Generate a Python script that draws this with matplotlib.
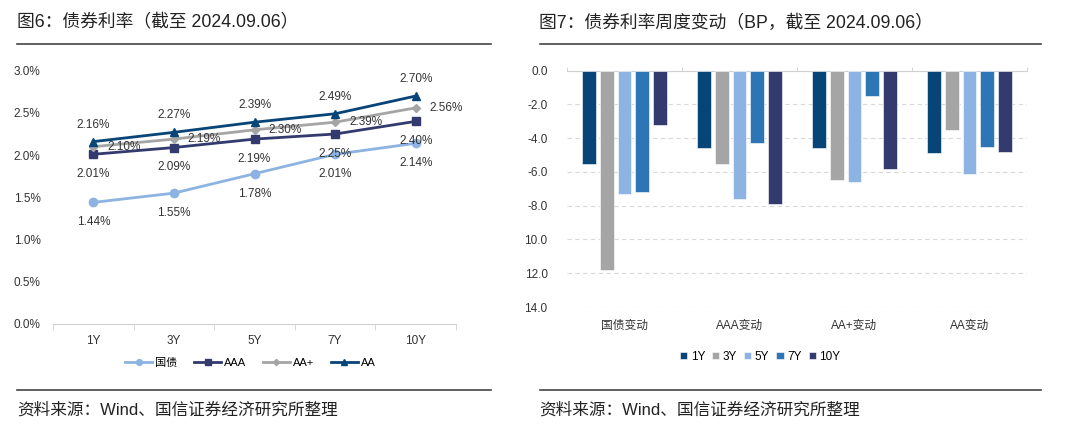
import matplotlib
matplotlib.use("Agg")
import matplotlib.pyplot as plt
import numpy as np
from matplotlib.lines import Line2D

plt.rcParams['font.family'] = ['Liberation Sans', 'Noto Sans CJK SC', 'DejaVu Sans']

# left chart data
tenors = ["1Y", "3Y", "5Y", "7Y", "10Y"]
gov = [1.44, 1.55, 1.78, 2.01, 2.14]
aaa = [2.01, 2.09, 2.19, 2.25, 2.40]
aa_plus = [2.10, 2.19, 2.30, 2.39, 2.56]
aa = [2.16, 2.27, 2.39, 2.49, 2.70]

# right chart data (BP)
groups = ["国债变动", "AAA变动", "AA+变动", "AA变动"]
chg_1y = [-5.5, -4.6, -4.6, -4.9]
chg_3y = [-11.8, -5.5, -6.5, -3.5]
chg_5y = [-7.3, -7.6, -6.6, -6.1]
chg_7y = [-7.2, -4.3, -1.5, -4.5]
chg_10y = [-3.2, -7.9, -5.8, -4.8]
ytick_vals = [0, -2, -4, -6, -8, -10, -12, -14]
ytick_text = ["0.0", "-2.0", "-4.0", "-6.0", "-8.0", "10.0", "12.0", "14.0"]

C_LIGHT = '#8db3e2'
C_INDIGO = '#323a6e'
C_GRAY = '#a5a5a5'
C_NAVY = '#074477'
C_MID = '#2e75b6'

W, H = 1080, 438
fig = plt.figure(figsize=(W / 100, H / 100), dpi=100)


def px_axes(x0, y0, x1, y1):
    return fig.add_axes([x0 / W, 1 - y1 / H, (x1 - x0) / W, (y1 - y0) / H])


# titles, rules, source lines
fig.text(17 / W, 1 - 23 / H, "图6：债券利率（截至 2024.09.06）", fontsize=12.8, va='center', color='#222222')
fig.text(539 / W, 1 - 23 / H, "图7：债券利率周度变动（BP，截至 2024.09.06）", fontsize=12.8, va='center', color='#222222')
for x0, x1 in [(17, 491), (540, 1041)]:
    fig.add_artist(Line2D([x0 / W, x1 / W], [1 - 44 / H] * 2, color='#444444', lw=1.2))
    fig.add_artist(Line2D([x0 / W, x1 / W], [1 - 390 / H] * 2, color='#444444', lw=1.2))
fig.text(17 / W, 1 - 410 / H, "资料来源：Wind、国信证券经济研究所整理", fontsize=12, va='center', color='#222222')
fig.text(539 / W, 1 - 410 / H, "资料来源：Wind、国信证券经济研究所整理", fontsize=12, va='center', color='#222222')

# ---- left: line chart
ax = px_axes(53, 70.7, 456, 324)
x = np.arange(len(tenors))
series = [
    ("国债", gov, C_LIGHT, 'o', 6, 'below'),
    ("AAA", aaa, C_INDIGO, 's', 6, 'below'),
    ("AA+", aa_plus, C_GRAY, 'D', 4.5, 'right'),
    ("AA", aa, C_NAVY, '^', 6, 'above'),
]
for name, vals, col, mk, ms, pos in series:
    ax.plot(x, vals, color=col, marker=mk, markersize=ms, lw=2, label=name)
    for xi, v in zip(x, vals):
        lab = f"{v:.2f}%"
        if pos == 'below':
            ax.annotate(lab, (xi, v), xytext=(0, -10), textcoords='offset points',
                        ha='center', va='top', fontsize=8.5, color='#333333')
        elif pos == 'above':
            ax.annotate(lab, (xi, v), xytext=(0, 8), textcoords='offset points',
                        ha='center', va='bottom', fontsize=8.5, color='#333333')
        else:
            ax.annotate(lab, (xi, v), xytext=(10, 0), textcoords='offset points',
                        ha='left', va='center', fontsize=8.5, color='#333333')

ax.set_xlim(-0.5, len(tenors) - 0.5)
ax.set_ylim(0, 3.0)
ax.set_yticks(np.arange(0, 3.01, 0.5))
ax.set_yticklabels([f"{v:.1f}%" for v in np.arange(0, 3.01, 0.5)])
ax.set_xticks(x)
ax.set_xticklabels(tenors)
ax.set_xticks(np.arange(-0.5, len(tenors)), minor=True)
ax.tick_params(axis='x', which='major', length=0, pad=8, labelsize=8.5, colors='#333333')
ax.tick_params(axis='x', which='minor', length=4, color='#d0d0d0')
ax.tick_params(axis='y', length=0, pad=9, labelsize=8.5, colors='#333333')
for s in ['top', 'right', 'left']:
    ax.spines[s].set_visible(False)
ax.spines['bottom'].set_color('#d0d0d0')
ax.legend(loc='upper center', bbox_to_anchor=(0.49, -0.095), ncol=4, frameon=False,
          fontsize=8, handlelength=2.4, markerscale=0.7, columnspacing=1.5, handletextpad=0.3)

# ---- right: grouped bars
bx = px_axes(567, 70.7, 1027, 307)
g = np.arange(len(groups))
bar_sets = [("1Y", chg_1y, C_NAVY), ("3Y", chg_3y, C_GRAY), ("5Y", chg_5y, C_LIGHT),
            ("7Y", chg_7y, C_MID), ("10Y", chg_10y, C_INDIGO)]
step = 0.153
for i, (name, vals, col) in enumerate(bar_sets):
    bx.bar(g + (i - 2) * step, vals, width=0.12, color=col, label=name,
           edgecolor='white', linewidth=0.4, zorder=3)
bx.set_xlim(-0.5, len(groups) - 0.5)
bx.set_ylim(-14, 0)
bx.set_yticks(ytick_vals)
bx.set_yticklabels(ytick_text)
bx.grid(axis='y', linestyle=(0, (4, 3)), color='#d9d9d9', lw=0.8, zorder=0)
bx.set_xticks(g)
bx.set_xticklabels(groups, fontsize=8.5, color='#333333')
bx.set_xticks(np.arange(-0.5, len(groups)), minor=True)
bx.tick_params(axis='x', which='major', length=0, pad=9)
bx.tick_params(axis='x', which='minor', bottom=False, top=True, length=3, color='#d0d0d0')
bx.tick_params(axis='y', length=0, pad=14, labelsize=8.5, colors='#333333')
for s in ['bottom', 'right', 'left']:
    bx.spines[s].set_visible(False)
bx.spines['top'].set_color('#d0d0d0')
bx.legend(loc='upper center', bbox_to_anchor=(0.42, -0.14), ncol=5, frameon=False,
          fontsize=8.5, handlelength=0.6, handleheight=0.6, columnspacing=0.6, handletextpad=0.3)

fig.savefig("out.png", dpi=100)
